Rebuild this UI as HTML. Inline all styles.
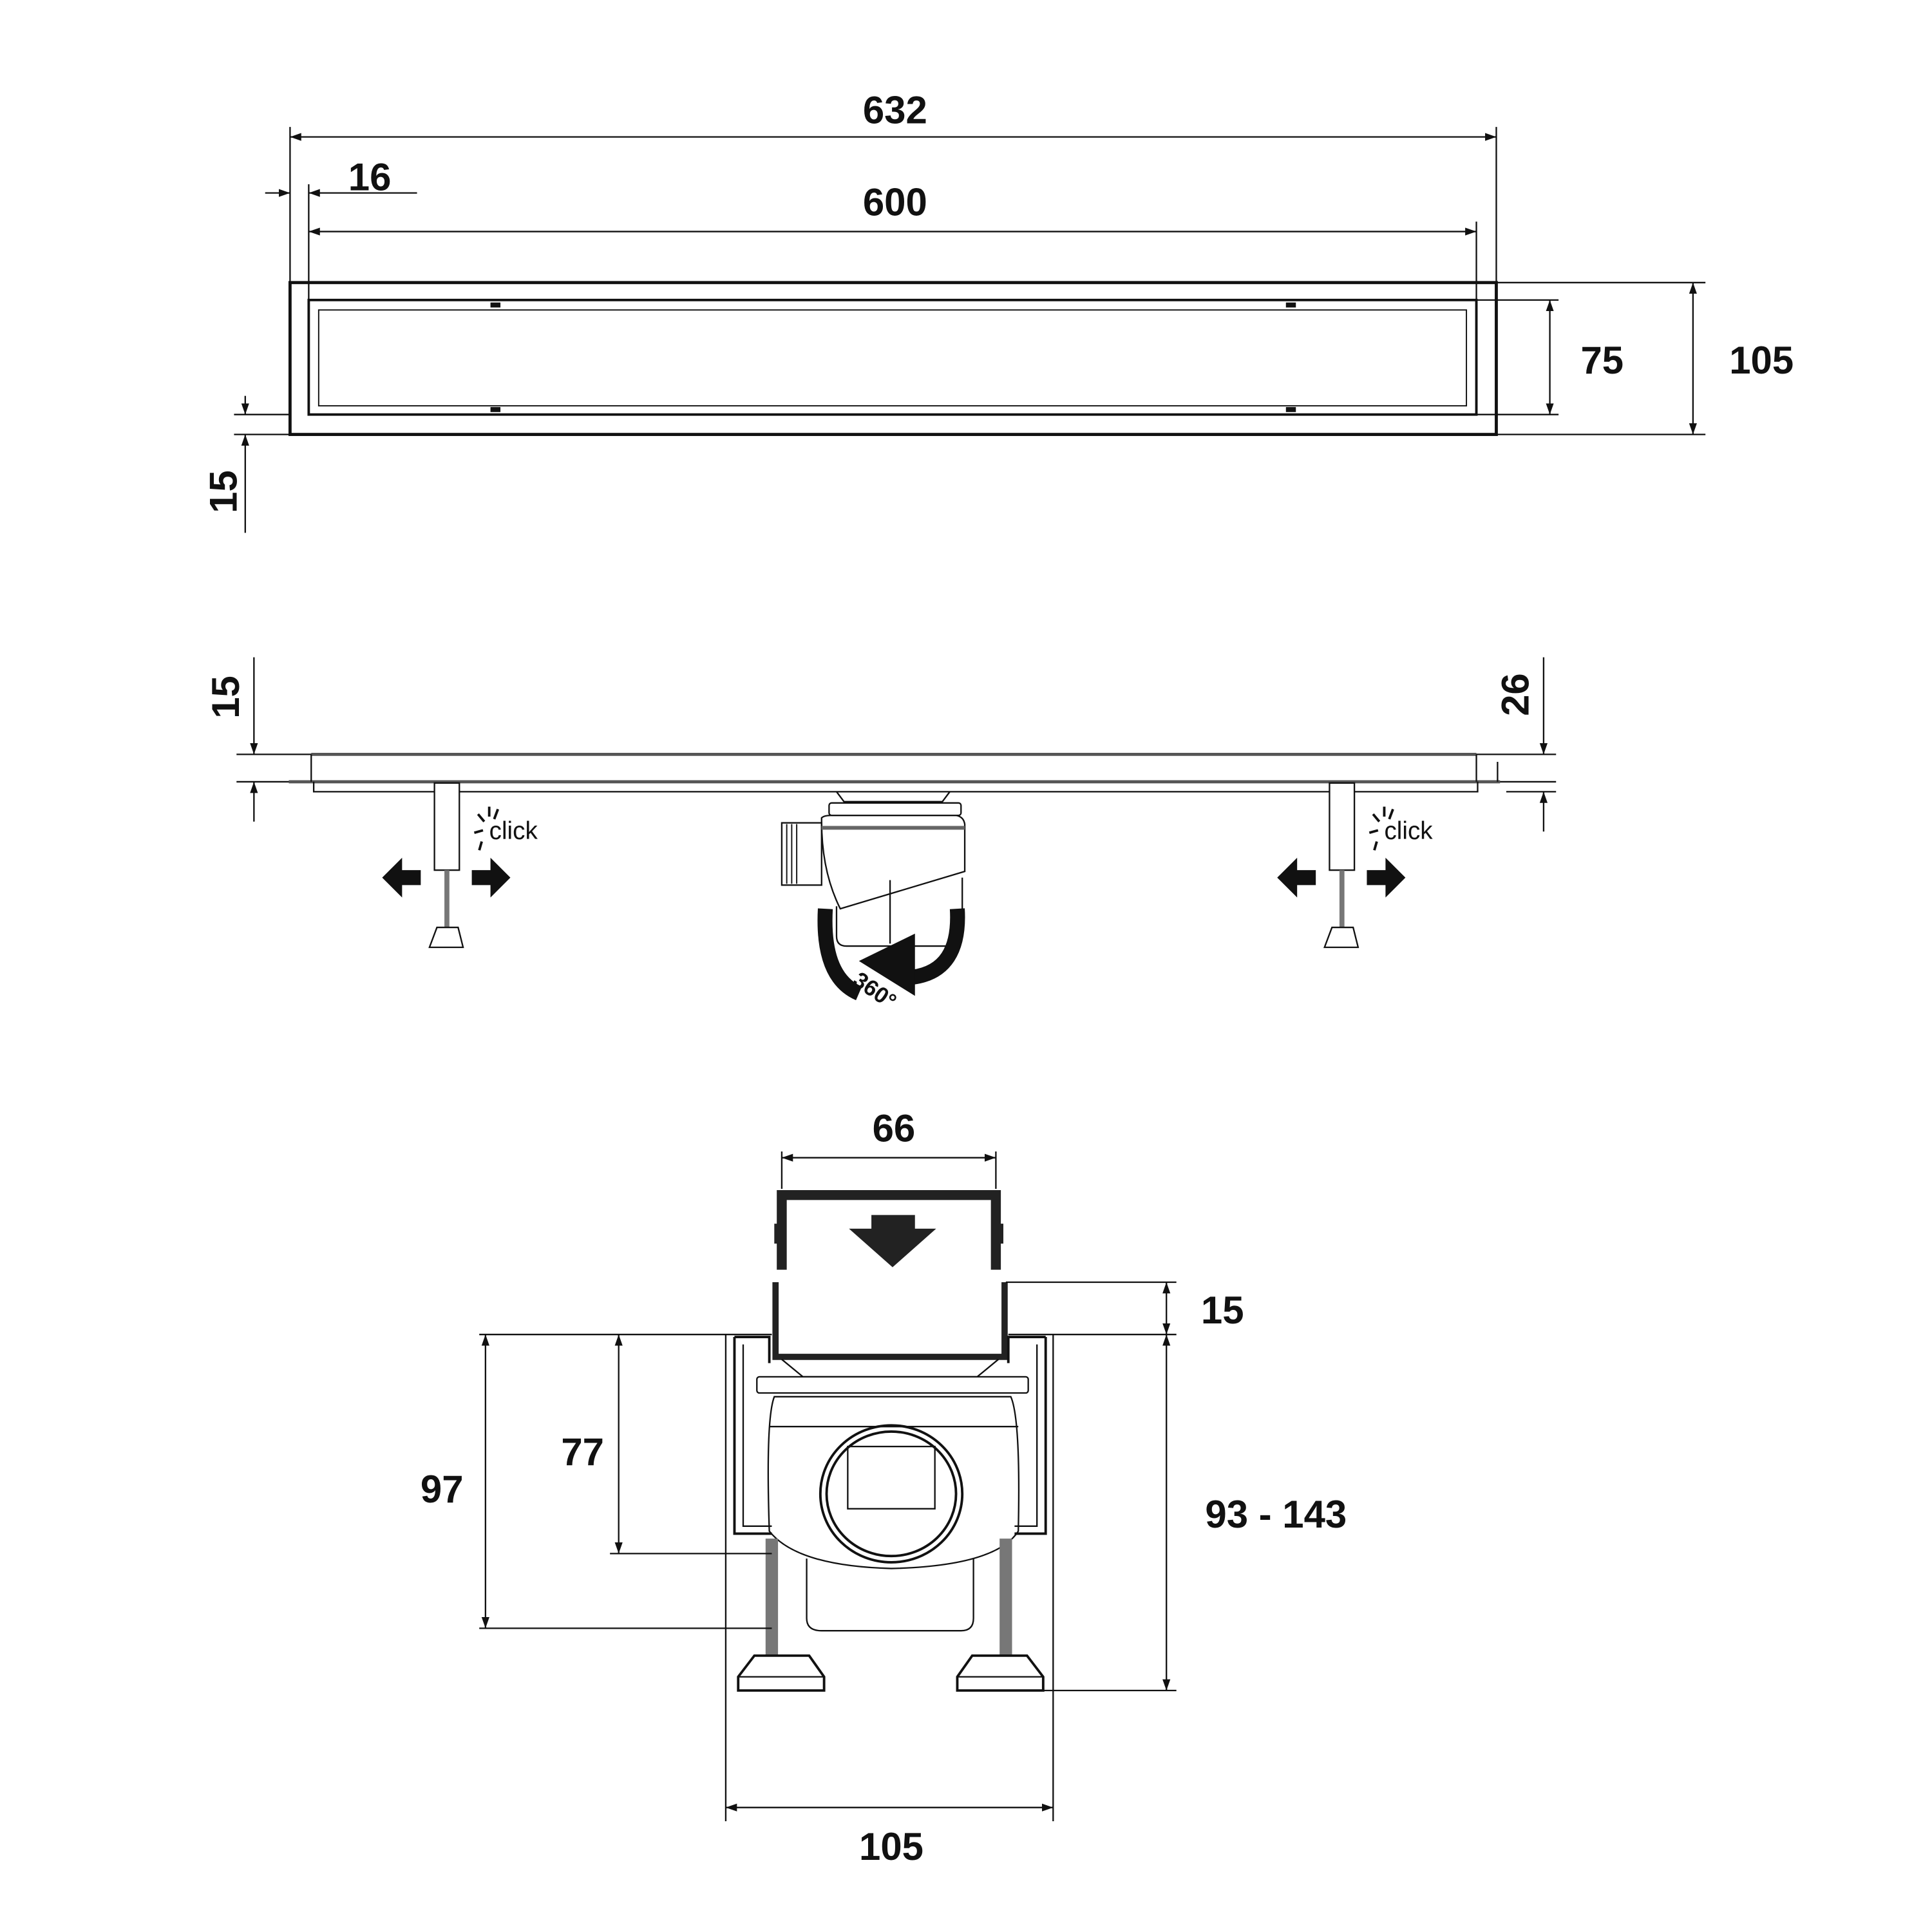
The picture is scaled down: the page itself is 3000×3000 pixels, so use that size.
<!DOCTYPE html>
<html><head><meta charset="utf-8"><style>html,body{margin:0;padding:0;background:#fff}svg{display:block}text{font-family:"Liberation Sans",sans-serif;font-weight:bold;fill:#111}</style></head>
<body>
<svg width="3000" height="3000" viewBox="0 0 1552 1552" xmlns="http://www.w3.org/2000/svg">
<defs>
<marker id="a" viewBox="0 0 10 10" refX="10" refY="5" markerWidth="9" markerHeight="9" orient="auto-start-reverse" markerUnits="userSpaceOnUse"><path d="M0,1.5 L10,5 L0,8.5z" fill="#111"/></marker>
</defs>
<g stroke="#111" fill="none" stroke-width="1.2">
<!-- TOP VIEW -->
<rect x="233" y="227" width="969" height="122" stroke-width="2.5"/>
<rect x="248" y="241" width="938" height="92" stroke-width="2"/>
<rect x="256" y="249" width="922" height="77" stroke-width="1"/>
<g stroke-width="4"><line x1="394" y1="245" x2="402" y2="245"/><line x1="1033" y1="245" x2="1041" y2="245"/><line x1="394" y1="329" x2="402" y2="329"/><line x1="1033" y1="329" x2="1041" y2="329"/></g>
<line x1="233" y1="102" x2="233" y2="227"/><line x1="1202" y1="102" x2="1202" y2="227"/>
<line x1="233" y1="110" x2="1202" y2="110" marker-start="url(#a)" marker-end="url(#a)"/>
<line x1="248" y1="148" x2="248" y2="241"/><line x1="1186" y1="178" x2="1186" y2="241"/>
<line x1="248" y1="186" x2="1186" y2="186" marker-start="url(#a)" marker-end="url(#a)"/>
<line x1="213" y1="155" x2="233" y2="155" marker-end="url(#a)"/>
<line x1="335" y1="155" x2="248" y2="155" marker-end="url(#a)"/>
<line x1="1186" y1="241" x2="1252" y2="241"/><line x1="1186" y1="333" x2="1252" y2="333"/>
<line x1="1245" y1="241" x2="1245" y2="333" marker-start="url(#a)" marker-end="url(#a)"/>
<line x1="1202" y1="227" x2="1370" y2="227"/><line x1="1202" y1="349" x2="1370" y2="349"/>
<line x1="1360" y1="227" x2="1360" y2="349" marker-start="url(#a)" marker-end="url(#a)"/>
<line x1="188" y1="333" x2="233" y2="333"/><line x1="188" y1="349" x2="233" y2="349"/>
<line x1="197" y1="318" x2="197" y2="333" marker-end="url(#a)"/>
<line x1="197" y1="428" x2="197" y2="349" marker-end="url(#a)"/>

<!-- SIDE VIEW -->
<line x1="190" y1="606" x2="1250" y2="606"/>
<line x1="190" y1="628" x2="1250" y2="628"/>
<line x1="250" y1="606" x2="1186" y2="606" stroke-width="2.5" stroke="#555"/>
<line x1="232" y1="628" x2="1205" y2="628" stroke-width="2.5" stroke="#555"/>
<line x1="250" y1="606" x2="250" y2="628"/><line x1="1186" y1="606" x2="1186" y2="628"/>
<path d="M252,628 V636 H1187 V628"/>
<line x1="1203" y1="628" x2="1203" y2="612"/>
<line x1="204" y1="528" x2="204" y2="606" marker-end="url(#a)"/>
<line x1="204" y1="660" x2="204" y2="628" marker-end="url(#a)"/>
<line x1="1240" y1="528" x2="1240" y2="606" marker-end="url(#a)"/>
<line x1="1240" y1="668" x2="1240" y2="636" marker-end="url(#a)"/>
<line x1="1210" y1="636" x2="1250" y2="636"/>
<!-- legs -->
<g id="leg">
<rect x="349" y="629" width="20" height="70" fill="#fff"/>
<line x1="359" y1="699" x2="359" y2="745" stroke-width="4" stroke="#777"/>
<path d="M351,745 H368 L372,761 H345 Z" fill="#fff"/>
<path d="M307,705 L323,689 V699 H338 V711 H323 V721 Z" fill="#111" stroke="none"/>
<path d="M410,705 L394,689 V699 H379 V711 H394 V721 Z" fill="#111" stroke="none"/>
<g stroke-width="2"><line x1="381" y1="669" x2="388" y2="667"/><line x1="384" y1="654" x2="389" y2="660"/><line x1="393" y1="648" x2="393" y2="656"/><line x1="400" y1="650" x2="397" y2="658"/><line x1="387" y1="676" x2="385" y2="683"/></g>
</g>
<use href="#leg" transform="translate(719,0)"/>
<!-- trap -->
<path d="M672,636 L678,644 H757 L763,636" />
<rect x="666" y="645" width="106" height="10" rx="2"/>
<path d="M660,657 Q662,655 668,655 H768 Q774,656 775,662 V700 L675,730 Q660,700 660,660 Z"/>
<path d="M672,728 V752 Q672,760 680,760 H765 Q772,760 773,752 V705" />
<line x1="715" y1="707" x2="715" y2="758"/>
<rect x="628" y="661" width="32" height="50"/>
<g stroke-width="1"><line x1="632" y1="662" x2="632" y2="710"/><line x1="636" y1="662" x2="636" y2="710"/><line x1="640" y1="662" x2="640" y2="710"/></g>
<line x1="660" y1="665" x2="775" y2="665" stroke-width="3" stroke="#666"/>
<!-- rotation arrow -->
<path d="M663,730 Q660,785 690,798" stroke-width="12" stroke="#111"/>
<path d="M769,730 Q772,780 733,785" stroke-width="12" stroke="#111"/>
<path d="M735,750 L735,800 L690,772 Z" fill="#111" stroke="none"/>

<!-- BOTTOM VIEW -->
<path d="M628,1020 V960 H800 V1020" stroke-width="8" stroke="#222"/>
<rect x="622" y="983" width="8" height="16" fill="#222" stroke="none"/>
<rect x="798" y="983" width="8" height="16" fill="#222" stroke="none"/>
<path d="M700,987 V976 H735 V987 H752 L717,1018 L682,987 Z" fill="#222" stroke="none"/>
<path d="M623,1030 V1090 H807 V1030" stroke-width="5" stroke="#222"/>
<line x1="808" y1="1030" x2="945" y2="1030"/>
<line x1="385" y1="1072" x2="620" y2="1072"/>
<line x1="810" y1="1072" x2="945" y2="1072"/>
<line x1="583" y1="1072" x2="583" y2="1463"/><line x1="846" y1="1072" x2="846" y2="1463"/>
<path d="M590,1074 H618 V1095 M840,1074 H810 V1095" stroke-width="2"/>
<path d="M590,1074 V1232 H620 M840,1074 V1232 H815" stroke-width="2"/>
<path d="M597,1080 V1226 H620 M833,1080 V1226 H815"/>
<path d="M628,1092 L645,1106 H785 L802,1092"/>
<rect x="608" y="1106" width="218" height="13" rx="2"/>
<path d="M622,1122 Q615,1140 618,1230 Q640,1258 716,1260 Q800,1258 818,1230 Q820,1140 812,1122 Z"/>
<line x1="618" y1="1146" x2="818" y2="1146"/>
<ellipse cx="716" cy="1200" rx="57" ry="55" stroke-width="2"/>
<ellipse cx="716" cy="1200" rx="52" ry="50" stroke-width="2"/>
<rect x="681" y="1162" width="70" height="50"/>
<path d="M648,1252 V1300 Q648,1310 660,1310 H772 Q782,1310 782,1300 V1252"/>
<line x1="620" y1="1236" x2="620" y2="1330" stroke-width="10" stroke="#777"/>
<line x1="808" y1="1236" x2="808" y2="1330" stroke-width="10" stroke="#777"/>
<path d="M606,1330 H650 L662,1347 V1358 H593 V1347 Z" fill="#fff" stroke-width="2"/>
<path d="M781,1330 H825 L838,1347 V1358 H769 V1347 Z" fill="#fff" stroke-width="2"/>
<line x1="593" y1="1347" x2="662" y2="1347"/><line x1="769" y1="1347" x2="838" y2="1347"/>
<line x1="628" y1="925" x2="628" y2="955"/><line x1="800" y1="925" x2="800" y2="955"/>
<line x1="628" y1="930" x2="800" y2="930" marker-start="url(#a)" marker-end="url(#a)"/>
<line x1="583" y1="1452" x2="846" y2="1452" marker-start="url(#a)" marker-end="url(#a)"/>
<line x1="937" y1="1030" x2="937" y2="1072" marker-start="url(#a)" marker-end="url(#a)"/>
<line x1="937" y1="1072" x2="937" y2="1358" marker-start="url(#a)" marker-end="url(#a)"/>
<line x1="838" y1="1358" x2="945" y2="1358"/>
<line x1="390" y1="1072" x2="390" y2="1308" marker-start="url(#a)" marker-end="url(#a)"/>
<line x1="385" y1="1308" x2="620" y2="1308"/>
<line x1="497" y1="1072" x2="497" y2="1248" marker-start="url(#a)" marker-end="url(#a)"/>
<line x1="490" y1="1248" x2="620" y2="1248"/>
</g>
<g font-size="31" text-anchor="middle">
<text x="719" y="99">632</text>
<text x="719" y="173">600</text>
<text x="297" y="153">16</text>
<text x="1287" y="300">75</text>
<text x="1415" y="300">105</text>
<text transform="translate(190,395) rotate(-90)">15</text>
<text transform="translate(192,560) rotate(-90)">15</text>
<text transform="translate(1228,558) rotate(-90)">26</text>
<text x="718" y="917">66</text>
<text x="982" y="1063">15</text>
<text x="1025" y="1227">93 - 143</text>
<text x="355" y="1207">97</text>
<text x="468" y="1177">77</text>
<text x="716" y="1494">105</text>
</g>
<g font-size="20">
<text x="393" y="674" style="font-weight:normal">click</text>
<text x="1112" y="674" style="font-weight:normal">click</text>
<text transform="translate(684,790) rotate(35)" font-size="18">360°</text>
</g>
</svg>
</body></html>
